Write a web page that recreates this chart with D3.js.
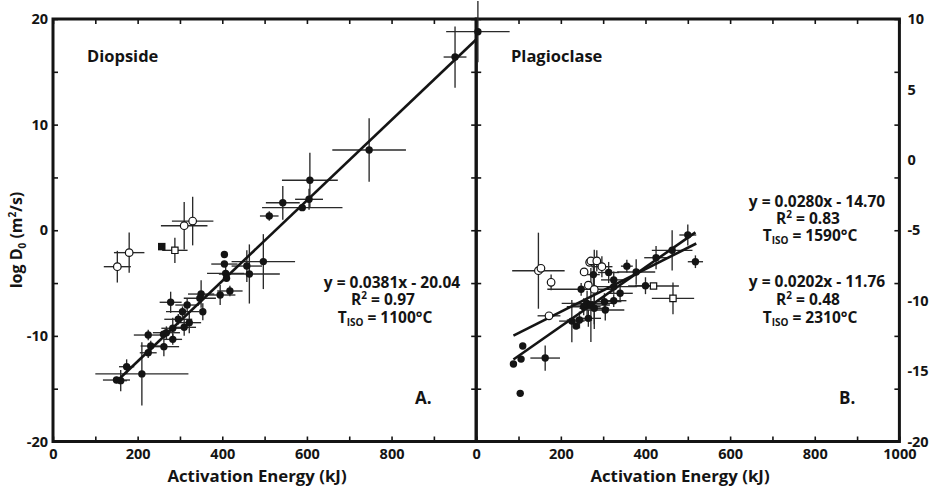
<!DOCTYPE html>
<html>
<head>
<meta charset="utf-8">
<script src="https://cdn.jsdelivr.net/npm/d3@7"></script>
<style>
  body { margin: 0; background: #fff; }
  svg { display: block; font-family: "Open Sans", Lato, sans-serif; font-weight: 700; }
</style>
</head>
<body>
<svg id="chart" width="932" height="488"></svg>
<script>
// ---- tick labels ----
const energyTicksLeft = [0, 200, 400, 600, 800];
const energyTicksRight = [0, 200, 400, 600, 800, 1000];
const logTicksLeft = [-20, -10, 0, 10, 20];
const logTicksRight = [-20, -15, -10, -5, 0, 5, 10];

// ---- data: [activation energy (kJ), log D0, ± energy, ± log D0] ----
const diopsideFilled = [
  [1004, 18.8, 75, 2.9], [950, 16.4, 27, 2.9], [747, 7.6, 87, 3.0],
  [607, 4.73, 66, 2.6], [605, 2.93, 33, 1.0], [589, 2.14, 95, 0.3],
  [543, 2.6, 40, 1.6], [511, 1.35, 22, 0.45], [497, -2.97, 75, 2.6],
  [458, -3.39, 36, 1.5], [464, -4.14, 72, 2.8], [405, -2.3, 0, 0],
  [405, -3.2, 31, 0], [408, -4.08, 44, 0.6], [410, -4.55, 0, 0],
  [418, -5.75, 30, 0.5], [395, -6.13, 36, 0.95], [350, -6.04, 31, 1.3],
  [347, -6.44, 38, 0.6], [354, -7.71, 0, 0.8], [317, -7.08, 28, 0.6],
  [306, -7.71, 39, 0.5], [278, -6.82, 26, 1.0], [296, -8.43, 33, 0.5],
  [322, -8.75, 28, 1.0], [310, -9.19, 28, 0.8], [283, -9.28, 27, 1.0],
  [268, -9.7, 32, 0.6], [283, -10.33, 22, 0.5], [225, -9.92, 34, 0.5],
  [262, -11.02, 36, 0.9], [231, -10.96, 24, 0.5], [225, -11.6, 20, 0.5],
  [174, -12.92, 18, 0.7], [150, -14.18, 32, 0.3], [160, -14.24, 15, 1.0],
  [210, -13.6, 110, 3.0], [261, -9.85, 0, 0]
];
const diopsideOpen = [
  [310, 0.43, 55, 2.25], [330, 0.87, 49, 2.3], [180, -2.12, 36, 1.9], [152, -3.45, 32, 1.5]
];
const diopsideOpenSquare = [[288, -1.9, 30, 1.2]];
const diopsideFilledSquare = [[257, -1.55, 0, 0]];

const plagioclaseFilled = [
  [463, -1.9, 48, 1.9], [500, -0.45, 20, 1.0], [518, -2.98, 18, 0.6],
  [425, -2.6, 28, 1.1], [356, -3.4, 14, 0.6], [378, -3.95, 45, 1.2],
  [400, -5.25, 25, 0.8], [313, -4.0, 25, 1.0], [277, -4.2, 15, 1.2],
  [325, -4.7, 30, 0.8], [248, -5.59, 80, 0.6], [325, -5.34, 55, 0.6],
  [340, -5.97, 30, 0.7], [303, -6.76, 40, 0.8], [325, -6.67, 30, 0.6],
  [262, -6.92, 60, 1.2], [271, -7.08, 45, 3.5], [254, -7.24, 40, 0.8],
  [279, -7.39, 35, 1.5], [305, -7.55, 45, 1.0], [265, -8.34, 30, 0.8],
  [244, -8.5, 30, 0.8], [226, -8.6, 30, 2.0], [236, -9.07, 0, 0],
  [110, -10.96, 0, 0], [106, -12.2, 0, 0], [88, -12.66, 0, 0],
  [163, -12.1, 35, 1.2], [104, -15.44, 0, 0]
];
const plagioclaseOpen = [
  [147, -3.83, 62, 3.6], [153, -3.6, 0, 0], [177, -4.93, 0, 0.75],
  [172, -8.1, 27, 0], [268, -3.04, 0, 0], [271, -2.9, 0, 0],
  [285, -2.9, 0, 1.0], [297, -3.45, 25, 1.0], [255, -3.95, 0, 0],
  [265, -5.2, 0, 0], [279, -5.6, 0, 3.75]
];
const plagioclaseOpenSquare = [[419, -5.28, 60, 0], [465, -6.45, 50, 1.5]];

// ---- regression fits ----
const diopsideFit = { slope: 0.0381, intercept: -20.04, r2: 0.97, tIso: 1100, from: 150, to: 1000 };
const plagioclaseFitA = { slope: 0.0280, intercept: -14.70, r2: 0.83, tIso: 1590, from: 88, to: 518 };
const plagioclaseFitB = { slope: 0.0202, intercept: -11.76, r2: 0.48, tIso: 2310, from: 88, to: 520 };

// ---- layout ----
const plotTop = 19, plotBottom = 441.5, plotLeft = 53, plotMid = 476.2, plotRight = 899.4;
const xL = d3.scaleLinear().domain([0, 1000]).range([plotLeft, plotMid]);
const xR = d3.scaleLinear().domain([0, 1000]).range([plotMid, plotRight]);
const y = d3.scaleLinear().domain([-20, 20]).range([plotBottom, plotTop]);
const yRight = d3.scaleLinear().domain([-20, 10]).range([plotBottom, plotTop]);

const svg = d3.select('#chart');
const ink = '#141414';
const fontFamily = '"Open Sans", Lato, sans-serif';
const plainNumber = d => String(d);

// ---- tick marks (inward) ----
function tickAxis(axis, tx, ty) {
  const g = svg.append('g').attr('transform', `translate(${tx},${ty})`).call(axis);
  g.select('.domain').remove();
  g.selectAll('.tick line').attr('stroke', ink).attr('stroke-width', 1.6);
  g.selectAll('.tick text').remove();
  return g;
}
const minorX = d3.range(0, 1001, 100);
const minorY = d3.range(-20, 21, 5);
[xL, xR].forEach(xs => {
  tickAxis(d3.axisBottom(xs).tickValues(minorX).tickSize(-5), 0, plotBottom);
  tickAxis(d3.axisTop(xs).tickValues(minorX).tickSize(-5), 0, plotTop);
});
tickAxis(d3.axisLeft(y).tickValues(minorY).tickSize(-5), plotLeft, 0);
tickAxis(d3.axisRight(y).tickValues(minorY).tickSize(-5), plotRight, 0);
tickAxis(d3.axisLeft(y).tickValues(minorY).tickSize(5), plotMid, 0);
tickAxis(d3.axisRight(y).tickValues(minorY).tickSize(5), plotMid, 0);

// ---- tick labels ----
function labelAxis(axis, tx, ty, size) {
  const g = svg.append('g').attr('transform', `translate(${tx},${ty})`).call(axis);
  g.select('.domain').remove();
  g.selectAll('.tick line').remove();
  g.selectAll('.tick text')
    .attr('fill', ink)
    .style('font-family', fontFamily)
    .style('font-weight', 700)
    .style('font-size', size + 'px');
  return g;
}
labelAxis(d3.axisBottom(xL).tickValues(energyTicksLeft).tickFormat(plainNumber).tickSize(0).tickPadding(7), 0, plotBottom, 14.5);
labelAxis(d3.axisBottom(xR).tickValues(energyTicksRight).tickFormat(plainNumber).tickSize(0).tickPadding(7), 0, plotBottom, 14.5);
labelAxis(d3.axisLeft(y).tickValues(logTicksLeft).tickFormat(plainNumber).tickSize(0).tickPadding(5), plotLeft, 0, 14.5);
labelAxis(d3.axisRight(yRight).tickValues(logTicksRight).tickFormat(plainNumber).tickSize(0).tickPadding(8), plotRight, 0, 14.5);

// ---- frames ----
svg.append('rect').attr('x', plotLeft).attr('y', plotTop)
  .attr('width', plotMid - plotLeft).attr('height', plotBottom - plotTop)
  .attr('fill', 'none').attr('stroke', ink).attr('stroke-width', 3);
svg.append('rect').attr('x', plotMid).attr('y', plotTop)
  .attr('width', plotRight - plotMid).attr('height', plotBottom - plotTop)
  .attr('fill', 'none').attr('stroke', ink).attr('stroke-width', 3);

// ---- error bars ----
const gBars = svg.append('g').attr('stroke', '#2a2a2a').attr('stroke-width', 1.35);
function drawBars(data, xs) {
  data.filter(d => d[2] > 0).forEach(d => {
    gBars.append('line').attr('x1', xs(d[0] - d[2])).attr('x2', xs(d[0] + d[2]))
      .attr('y1', y(d[1])).attr('y2', y(d[1]));
  });
  data.filter(d => d[3] > 0).forEach(d => {
    gBars.append('line').attr('x1', xs(d[0])).attr('x2', xs(d[0]))
      .attr('y1', y(d[1] - d[3])).attr('y2', y(d[1] + d[3]));
  });
}
drawBars(diopsideFilled, xL); drawBars(diopsideOpen, xL); drawBars(diopsideOpenSquare, xL);
drawBars(plagioclaseFilled, xR); drawBars(plagioclaseOpen, xR); drawBars(plagioclaseOpenSquare, xR);

// ---- markers ----
function circles(data, xs, filled, r) {
  svg.append('g').selectAll('circle').data(data).join('circle')
    .attr('cx', d => xs(d[0])).attr('cy', d => y(d[1])).attr('r', r)
    .attr('fill', filled ? ink : '#fff')
    .attr('stroke', ink).attr('stroke-width', filled ? 0 : 1.2);
}
function squares(data, xs, filled) {
  svg.append('g').selectAll('path').data(data).join('path')
    .attr('d', d3.symbol(d3.symbolSquare, filled ? 56 : 40))
    .attr('transform', d => `translate(${xs(d[0])},${y(d[1])})`)
    .attr('fill', filled ? ink : '#fff')
    .attr('stroke', ink).attr('stroke-width', filled ? 0 : 1.2);
}
circles(diopsideFilled, xL, true, 3.7);
circles(plagioclaseFilled, xR, true, 3.7);
squares(diopsideFilledSquare, xL, true);

// ---- regression lines ----
function fitLine(fit, xs) {
  svg.append('line')
    .attr('x1', xs(fit.from)).attr('y1', y(fit.slope * fit.from + fit.intercept))
    .attr('x2', xs(fit.to)).attr('y2', y(fit.slope * fit.to + fit.intercept))
    .attr('stroke', ink).attr('stroke-width', 2.6);
}
fitLine(diopsideFit, xL);
fitLine(plagioclaseFitA, xR);
fitLine(plagioclaseFitB, xR);

// ---- open markers drawn last ----
circles(diopsideOpen, xL, false, 3.8);
circles(plagioclaseOpen, xR, false, 3.8);
squares(diopsideOpenSquare, xL, false);
squares(plagioclaseOpenSquare, xR, false);

// ---- annotations ----
const txt = (x, yy, s, size, anchor) => svg.append('text')
  .attr('x', x).attr('y', yy).attr('fill', ink)
  .attr('text-anchor', anchor || 'start').style('font-size', size + 'px').text(s);

txt(87, 62, 'Diopside', 16.5);
txt(511, 62, 'Plagioclase', 16.5);
txt(415, 404, 'A.', 17);
txt(839, 404, 'B.', 17);

function fitLabel(fit, cx, y0, dy) {
  const eq = `y = ${fit.slope.toFixed(4)}x - ${Math.abs(fit.intercept).toFixed(2)}`;
  txt(cx, y0, eq, 15.5, 'middle');
  const r = svg.append('text').attr('x', cx - 9).attr('y', y0 + dy).attr('fill', ink)
    .attr('text-anchor', 'middle').style('font-size', '15.5px');
  r.append('tspan').text('R');
  r.append('tspan').attr('dy', -6).style('font-size', '10px').text('2');
  r.append('tspan').attr('dy', 6).text(` = ${fit.r2.toFixed(2)}`);
  const t = svg.append('text').attr('x', cx - 7).attr('y', y0 + 2 * dy).attr('fill', ink)
    .attr('text-anchor', 'middle').style('font-size', '15.5px');
  t.append('tspan').text('T');
  t.append('tspan').attr('dy', 3).style('font-size', '10px').text('ISO');
  t.append('tspan').attr('dy', -3).text(` = ${fit.tIso}°C`);
}
fitLabel(diopsideFit, 392, 287.5, 17.8);
fitLabel(plagioclaseFitA, 817, 206.5, 17.3);
fitLabel(plagioclaseFitB, 817, 286.5, 18);

// ---- axis titles ----
txt(257, 482, 'Activation Energy (kJ)', 16.8, 'middle');
txt(680, 482, 'Activation Energy (kJ)', 16.8, 'middle');
const yt = svg.append('text').attr('transform', 'translate(22,240) rotate(-90)')
  .attr('text-anchor', 'middle').attr('fill', ink).style('font-size', '16px');
yt.append('tspan').text('log D');
yt.append('tspan').attr('dy', 4).style('font-size', '10px').text('0');
yt.append('tspan').attr('dy', -4).text(' (m');
yt.append('tspan').attr('dy', -6).style('font-size', '10px').text('2');
yt.append('tspan').attr('dy', 6).text('/s)');
</script>
</body>
</html>
